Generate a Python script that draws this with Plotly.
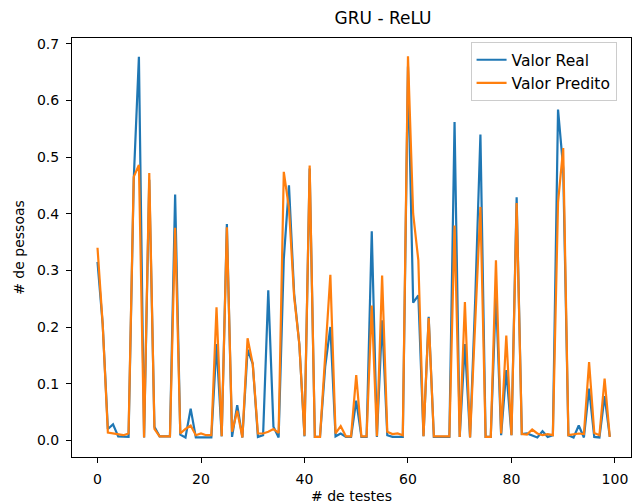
import plotly.graph_objects as go

testes = list(range(100))

valor_real = [
    0.315, 0.205, 0.020, 0.028, 0.007, 0.006, 0.006, 0.460, 0.677, 0.005,
    0.460, 0.024, 0.007, 0.007, 0.007, 0.434, 0.010, 0.005, 0.056, 0.005,
    0.005, 0.005, 0.005, 0.170, 0.007, 0.382, 0.006, 0.062, 0.005, 0.160,
    0.135, 0.006, 0.009, 0.265, 0.024, 0.005, 0.320, 0.450, 0.259, 0.170,
    0.007, 0.480, 0.006, 0.006, 0.130, 0.200, 0.007, 0.012, 0.006, 0.006,
    0.070, 0.006, 0.006, 0.369, 0.006, 0.212, 0.009, 0.006, 0.006, 0.006,
    0.660, 0.243, 0.256, 0.007, 0.218, 0.006, 0.006, 0.006, 0.006, 0.562,
    0.006, 0.170, 0.005, 0.250, 0.540, 0.006, 0.006, 0.260, 0.009, 0.124,
    0.009, 0.429, 0.011, 0.012, 0.009, 0.005, 0.016, 0.006, 0.009, 0.584,
    0.480, 0.009, 0.005, 0.026, 0.005, 0.091, 0.006, 0.005, 0.078, 0.006,
]

valor_predito = [
    0.340, 0.205, 0.0135, 0.012, 0.011, 0.009, 0.012, 0.465, 0.486, 0.005,
    0.472, 0.020, 0.007, 0.007, 0.007, 0.375, 0.012, 0.020, 0.026, 0.009,
    0.012, 0.009, 0.009, 0.235, 0.007, 0.376, 0.015, 0.052, 0.005, 0.180,
    0.135, 0.012, 0.012, 0.015, 0.020, 0.013, 0.474, 0.410, 0.253, 0.170,
    0.008, 0.485, 0.006, 0.006, 0.140, 0.292, 0.012, 0.025, 0.007, 0.007,
    0.115, 0.007, 0.007, 0.238, 0.007, 0.291, 0.015, 0.011, 0.012, 0.009,
    0.678, 0.400, 0.318, 0.007, 0.216, 0.007, 0.007, 0.007, 0.007, 0.379,
    0.006, 0.244, 0.005, 0.210, 0.412, 0.006, 0.006, 0.318, 0.012, 0.185,
    0.009, 0.419, 0.011, 0.010, 0.019, 0.012, 0.009, 0.011, 0.009, 0.420,
    0.516, 0.009, 0.011, 0.012, 0.011, 0.138, 0.013, 0.009, 0.109, 0.006,
]

x_ticks = [0, 20, 40, 60, 80, 100]
y_ticks = [0.0, 0.1, 0.2, 0.3, 0.4, 0.5, 0.6, 0.7]

FONT = "DejaVu Sans"

fig = go.Figure()
fig.add_trace(go.Scatter(x=testes, y=valor_real, mode="lines", name="Valor Real",
                         line=dict(color="#1f77b4", width=2.2)))
fig.add_trace(go.Scatter(x=testes, y=valor_predito, mode="lines", name="Valor Predito",
                         line=dict(color="#ff7f0e", width=2.2)))

axis_common = dict(
    showline=True, mirror=True, linecolor="black", linewidth=1.1,
    ticks="outside", ticklen=5, tickwidth=1.1, tickcolor="black",
    showgrid=False, zeroline=False,
    tickfont=dict(family=FONT, size=14, color="black"),
    ticklabelstandoff=4,
)

fig.update_layout(
    width=632, height=504,
    margin=dict(l=72, r=1, t=37.5, b=47.3),
    paper_bgcolor="white", plot_bgcolor="white",
    font=dict(family=FONT, size=14, color="black"),
    title=dict(text="GRU - ReLU", x=0.5565, xref="paper", xanchor="center",
               y=1 - 18 / 504, yref="container", yanchor="middle",
               font=dict(family=FONT, size=17, color="black")),
    xaxis=dict(range=[-4.93, 103.1], tickvals=x_ticks,
               title=dict(text="# de testes", standoff=6,
                          font=dict(family=FONT, size=14, color="black")),
               **axis_common),
    yaxis=dict(range=[-0.0295, 0.7102], tickvals=y_ticks, tickformat=".1f",
               title=dict(text="# de pessoas", standoff=8,
                          font=dict(family=FONT, size=14, color="black")),
               **axis_common),
    legend=dict(x=0.713, y=0.99, xanchor="left", yanchor="top",
                bgcolor="rgba(255,255,255,0.8)", bordercolor="#cccccc", borderwidth=1,
                font=dict(family=FONT, size=15.5, color="black"),
                tracegroupgap=0, itemwidth=30),
    showlegend=True,
)

fig.write_html("out.html")
